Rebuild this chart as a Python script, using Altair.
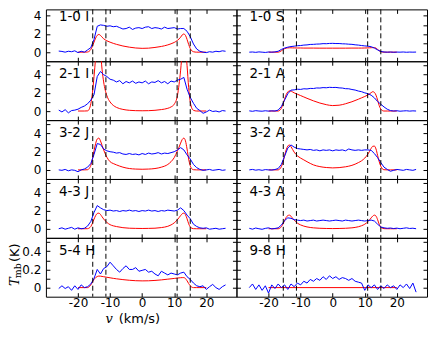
import altair as alt
import pandas as pd

# velocity grid of the observed (blue) spectra, km/s
V = [-26, -25, -24, -23, -22, -21, -20, -19, -18,
     -17, -16, -15, -14, -13, -12, -11, -10, -9,
     -8, -7, -6, -5, -4, -3, -2, -1, 0,
     1, 2, 3, 4, 5, 6, 7, 8, 9,
     10, 11, 12, 13, 14, 15, 16, 17, 18,
     19, 20, 21, 22, 23, 24, 25, 26]

B_10I = [0.12, 0.08, 0.0, 0.1, 0.05, 0.15, -0.05, 0.1, 0.0,
         0.25, 0.5, 1.4, 2.85, 3.0, 2.95, 2.85, 2.9, 2.8,
         2.85, 2.7, 2.55, 2.6, 2.75, 2.5, 2.65, 2.7, 2.6,
         2.75, 2.8, 2.6, 2.7, 2.65, 2.55, 2.75, 2.6, 2.65,
         2.7, 2.55, 2.6, 2.6, 2.3, 1.7, 0.9, 0.35, 0.1,
         0.0, -0.05, 0.05, 0.0, 0.1, 0.05, 0.15, 0.1]
B_10S = [0.0, 0.02, -0.02, 0.03, 0.0, -0.03, 0.02, 0.0, 0.03,
         0.1, 0.3, 0.45, 0.55, 0.62, 0.66, 0.71, 0.73, 0.78,
         0.8, 0.85, 0.86, 0.89, 0.9, 0.94, 0.93, 0.96, 0.97,
         0.95, 0.95, 0.92, 0.91, 0.88, 0.86, 0.81, 0.78, 0.73,
         0.69, 0.66, 0.6, 0.45, 0.25, 0.08, 0.02, 0.0, 0.02,
         -0.01, 0.01, 0.0, 0.02, -0.01, 0.01, 0.0, 0.01]
B_21I = [0.1, -0.1, 0.15, -0.2, 0.05, 0.1, 0.2, 0.4, 0.55,
         0.8, 1.2, 1.8, 3.8, 4.35, 4.0, 3.8, 3.5, 3.4,
         3.2, 3.35, 3.0, 3.25, 3.1, 3.3, 3.05, 3.2, 3.1,
         3.3, 3.0, 3.2, 3.15, 3.35, 3.1, 3.25, 3.0, 3.3,
         3.2, 3.4, 3.5, 3.7, 2.4, 1.5, 0.85, 0.3, 0.05,
         -0.25, -0.1, 0.1, -0.05, 0.0, -0.1, 0.05, 0.0]
B_21A = [0.02, -0.03, 0.04, 0.0, -0.02, 0.03, -0.01, 0.02, 0.0,
         0.1, 0.5, 1.2, 1.9, 2.3, 2.33, 2.4, 2.38, 2.45,
         2.43, 2.49, 2.48, 2.54, 2.53, 2.58, 2.56, 2.61, 2.59,
         2.6, 2.55, 2.53, 2.46, 2.45, 2.37, 2.31, 2.2, 2.13,
         2.0, 1.91, 1.74, 1.45, 1.05, 0.75, 0.45, 0.2, 0.05,
         0.0, 0.03, -0.02, 0.01, 0.03, -0.01, 0.02, 0.0]
B_32J = [0.0, -0.05, 0.05, -0.1, 0.0, -0.05, -0.2, 0.0, 0.1,
         0.3, 0.7, 1.7, 2.9, 2.8, 2.3, 2.1, 2.0, 1.95,
         1.85, 1.9, 1.75, 1.7, 1.8, 1.7, 1.75, 1.65, 1.8,
         1.7, 1.85, 1.75, 1.8, 1.9, 1.75, 1.85, 1.8, 1.9,
         2.0, 2.2, 2.45, 2.2, 1.65, 1.2, 0.6, 0.25, 0.05,
         -0.05, 0.0, 0.05, -0.05, 0.0, 0.05, -0.05, 0.0]
B_32A = [0.0, 0.05, -0.03, 0.02, -0.05, 0.03, 0.0, -0.02, 0.04,
         0.15, 0.6, 1.5, 2.4, 2.75, 2.5, 2.35, 2.3, 2.25,
         2.2, 2.25, 2.15, 2.2, 2.1, 2.2, 2.15, 2.2, 2.1,
         2.2, 2.15, 2.2, 2.1, 2.3, 2.2, 2.15, 2.2, 2.15,
         2.2, 2.2, 2.15, 1.8, 1.35, 0.8, 0.3, 0.05, -0.15,
         -0.05, 0.05, 0.0, -0.05, 0.05, 0.0, -0.05, 0.05]
B_43J = [0.0, 0.1, -0.05, 0.05, 0.15, -0.05, 0.1, 0.0, 0.05,
         0.3, 0.8, 1.8, 2.55, 2.3, 2.1, 2.0, 2.05, 1.95,
         2.0, 1.9, 2.0, 1.95, 2.05, 1.95, 2.0, 1.9, 2.0,
         1.95, 2.05, 1.95, 2.0, 1.9, 2.0, 1.95, 2.05, 2.0,
         1.95, 2.05, 2.3, 2.0, 1.5, 1.1, 0.5, 0.25, 0.1,
         0.05, 0.1, -0.05, 0.0, 0.05, -0.05, 0.0, 0.05]
B_43A = [0.05, -0.05, 0.08, 0.0, -0.06, 0.04, 0.1, -0.02, 0.03,
         0.1, 0.4, 0.9, 1.2, 1.15, 1.0, 0.95, 0.9, 0.95,
         0.85, 0.9, 0.95, 0.85, 0.9, 0.95, 0.9, 0.85, 0.9,
         0.95, 0.9, 0.85, 0.95, 0.9, 0.85, 0.9, 0.95, 0.9,
         0.85, 0.9, 0.95, 0.85, 0.5, 0.2, 0.1, 0.05, 0.08,
         0.02, 0.07, 0.0, 0.05, 0.1, 0.03, 0.06, 0.0]
B_54H = [-0.01, 0.02, -0.01, 0.01, -0.03, 0.02, -0.02, 0.03, 0.0,
         0.01, 0.04, 0.1, 0.2, 0.15, 0.21, 0.23, 0.28, 0.24,
         0.2, 0.17, 0.21, 0.24, 0.2, 0.2, 0.22, 0.18, 0.19,
         0.2, 0.17, 0.18, 0.15, 0.13, 0.18, 0.16, 0.14, 0.16,
         0.15, 0.14, 0.16, 0.17, 0.12, 0.09, 0.05, 0.02, 0.01,
         0.02, -0.02, 0.01, 0.035, 0.0, -0.02, 0.01, 0.03]
B_98H = [0.0, 0.04, -0.02, 0.03, -0.03, 0.02, -0.06, 0.03, -0.01,
         0.04, 0.0, 0.03, -0.02, 0.04, 0.01, 0.05, 0.03, 0.07,
         0.05, 0.09, 0.07, 0.1, 0.08, 0.12, 0.09, 0.13, 0.1,
         0.12, 0.09, 0.11, 0.1, 0.08, 0.1, 0.07, 0.06, 0.05,
         -0.03, 0.03, 0.0, 0.03, -0.02, 0.02, -0.01, 0.03, 0.0,
         0.02, -0.02, 0.03, 0.0, 0.04, -0.01, 0.05, -0.05]

# velocity grid of the model (red) profiles, km/s
RV = [-20, -18, -17, -16.5, -16, -15.5, -15, -14.5, -14, -13.5,
      -13, -12.5, -12, -11, -10, -9, -8, -6, -4, -2,
      0, 2, 4, 6, 8, 9, 10, 11, 11.5, 12,
      12.5, 13, 13.5, 14, 14.5, 15, 15.5, 16, 17, 18, 20]
R_10I = [0, 0, 0.02, 0.1, 0.3, 0.65, 1.1, 1.55, 1.85, 1.95,
         1.85, 1.65, 1.48, 1.25, 1.1, 0.97, 0.86, 0.68, 0.55, 0.46,
         0.42, 0.44, 0.52, 0.63, 0.8, 0.92, 1.07, 1.3, 1.45, 1.65,
         1.9, 2.0, 1.85, 1.4, 0.85, 0.4, 0.15, 0.05, 0, 0, 0]
R_10S = [0, 0, 0, 0.05, 0.15, 0.28, 0.38, 0.44, 0.47, 0.48,
         0.48, 0.47, 0.47, 0.46, 0.46, 0.45, 0.45, 0.45, 0.44, 0.44,
         0.44, 0.44, 0.44, 0.45, 0.45, 0.45, 0.46, 0.47, 0.48, 0.49,
         0.5, 0.5, 0.45, 0.3, 0.15, 0.05, 0.01, 0, 0, 0, 0]
R_21I = [0, 0, 0.02, 0.2, 0.8, 2.0, 3.8, 5.8, 7.2, 7.6,
         6.6, 4.6, 3.2, 1.7, 1.0, 0.62, 0.4, 0.18, 0.08, 0.04,
         0.03, 0.04, 0.08, 0.16, 0.3, 0.45, 0.75, 1.7, 2.9, 4.5,
         6.5, 7.6, 7.0, 5.0, 2.6, 1.0, 0.3, 0.08, 0, 0, 0]
R_21A = [0, 0, 0, 0.08, 0.3, 0.75, 1.3, 1.8, 2.1, 2.22,
         2.2, 2.1, 2.0, 1.85, 1.7, 1.55, 1.4, 1.12, 0.88, 0.7,
         0.6, 0.64, 0.8, 1.02, 1.3, 1.45, 1.6, 1.78, 1.9, 2.02,
         2.13, 2.05, 1.75, 1.2, 0.6, 0.2, 0.05, 0, 0, 0, 0]
R_32J = [0, 0, 0.02, 0.15, 0.5, 1.2, 2.1, 2.9, 3.4, 3.5,
         3.2, 2.7, 2.2, 1.4, 0.9, 0.7, 0.55, 0.3, 0.15, 0.09,
         0.07, 0.09, 0.15, 0.3, 0.6, 0.9, 1.35, 2.1, 2.5, 2.95,
         3.35, 3.5, 3.2, 2.3, 1.2, 0.45, 0.12, 0.02, 0, 0, 0]
R_32A = [0, 0, 0, 0.1, 0.35, 0.85, 1.55, 2.2, 2.62, 2.75,
         2.55, 2.25, 1.95, 1.55, 1.3, 1.1, 0.9, 0.55, 0.36, 0.26,
         0.22, 0.25, 0.34, 0.5, 0.8, 1.0, 1.3, 1.75, 2.05, 2.38,
         2.6, 2.62, 2.3, 1.6, 0.9, 0.4, 0.1, 0.02, 0, 0, 0]
R_43J = [0, 0, 0.01, 0.08, 0.25, 0.6, 1.05, 1.45, 1.68, 1.72,
         1.58, 1.32, 1.08, 0.7, 0.45, 0.32, 0.24, 0.12, 0.06, 0.04,
         0.03, 0.04, 0.06, 0.13, 0.27, 0.42, 0.65, 1.0, 1.22, 1.45,
         1.65, 1.72, 1.55, 1.1, 0.55, 0.2, 0.05, 0.01, 0, 0, 0]
R_43A = [0, 0, 0, 0.06, 0.22, 0.52, 0.9, 1.25, 1.45, 1.5,
         1.38, 1.15, 0.95, 0.62, 0.42, 0.29, 0.2, 0.1, 0.05, 0.03,
         0.02, 0.03, 0.05, 0.1, 0.22, 0.33, 0.5, 0.78, 0.98, 1.2,
         1.4, 1.5, 1.4, 1.0, 0.5, 0.18, 0.05, 0.01, 0, 0, 0]
R_54H = [0, 0, 0, 0.01, 0.03, 0.06, 0.09, 0.11, 0.122, 0.127,
         0.126, 0.123, 0.12, 0.114, 0.108, 0.102, 0.097, 0.088, 0.081, 0.076,
         0.074, 0.075, 0.079, 0.085, 0.093, 0.097, 0.101, 0.105, 0.107, 0.109,
         0.11, 0.11, 0.1, 0.075, 0.045, 0.02, 0.005, 0, 0, 0, 0]
RV_98 = [-20, 20]
R_98H = [0, 0]

DASHED = [-15.4, -11.3, 10.9, 15.0]

NAMES = ["1-0 I", "1-0 S", "2-1 I", "2-1 A", "3-2 J", "3-2 A",
         "4-3 J", "4-3 A", "5-4 H", "9-8 H"]
BLUES = [B_10I, B_10S, B_21I, B_21A, B_32J, B_32A, B_43J, B_43A, B_54H, B_98H]
REDS = [(RV, R_10I), (RV, R_10S), (RV, R_21I), (RV, R_21A), (RV, R_32J),
        (RV, R_32A), (RV, R_43J), (RV, R_43A), (RV, R_54H), (RV_98, R_98H)]

# layout
PW = 191
ROW_H = [52, 59, 59, 59, 59]
ROW_DOM = [[-1, 4.71], [-1, 5.48], [-1, 5.48], [-1, 5.48], [-0.1, 0.548]]
ROW_YT = [[0, 1, 2, 3, 4], [0, 1, 2, 3, 4, 5], [0, 1, 2, 3, 4, 5],
          [0, 1, 2, 3, 4, 5], [0, 0.1, 0.2, 0.3, 0.4, 0.5]]
XDOM = [-30, 29.4]
XT = [-20, -10, 0, 10, 20]
FONT = "DejaVu Sans"
SERIF = "DejaVu Serif"


def panel(k):
    row, col = divmod(k, 2)
    h = ROW_H[row]
    left = col == 0
    bottom = row == 4
    xs = alt.Scale(domain=XDOM, nice=False, zero=False)
    ys = alt.Scale(domain=ROW_DOM[row], nice=False, zero=False)
    common = dict(tickSize=4, offset=-4, domain=False, grid=False,
                  tickColor="#000", tickWidth=1, title=None,
                  labelFont=FONT, labelFontSize=12, labelColor="#000")
    if row < 4:
        ylab = "datum.value % 2 == 0 ? '' + datum.value : ''"
    else:
        ylab = "round(datum.value * 10) % 2 == 0 ? format(datum.value, '.1~f') : ''"
    xb = alt.Axis(orient="bottom", values=XT, labels=bottom,
                  labelExpr="'' + datum.value", labelPadding=1, **common)
    xt = alt.Axis(orient="top", values=XT, labels=False, **common)
    yl = alt.Axis(orient="left", values=ROW_YT[row], labels=left,
                  labelExpr=ylab, labelPadding=5, **common)
    yr = alt.Axis(orient="right", values=ROW_YT[row], labels=False, **common)

    rv, rt = REDS[k]
    dfb = pd.DataFrame({"v": V, "t": BLUES[k]})
    dfr = pd.DataFrame({"v": rv, "t": rt})
    red = alt.Chart(dfr).mark_line(color="#ff0000", strokeWidth=1, clip=True,
                                   interpolate="monotone").encode(
        x=alt.X("v:Q", scale=xs, axis=xt),
        y=alt.Y("t:Q", scale=ys, axis=yr))
    blue = alt.Chart(dfb).mark_line(color="#0000ff", strokeWidth=1, clip=True).encode(
        x=alt.X("v:Q", scale=xs, axis=xb),
        y=alt.Y("t:Q", scale=ys, axis=yl))
    dash = alt.Chart(pd.DataFrame({"d": DASHED})).mark_rule(
        color="#000", strokeWidth=1, strokeDash=[5, 3]).encode(
        x=alt.X("d:Q", scale=xs, axis=None))
    ly = 12 if row == 0 else 17
    lab = alt.Chart(pd.DataFrame({"s": [NAMES[k]]})).mark_text(
        align="left", baseline="alphabetic", font=FONT, fontSize=13.5,
        color="#000").encode(x=alt.value(13), y=alt.value(ly), text="s:N")
    layers = [red, blue, dash, lab]
    if bottom and left:
        def txt(s, x, y, **kw):
            return alt.Chart(pd.DataFrame({"s": [s]})).mark_text(
                color="#000", **kw).encode(x=alt.value(x), y=alt.value(y), text="s:N")
        layers += [
            txt("v", 67, h + 26, align="right", baseline="alphabetic",
                font=SERIF, fontStyle="italic", fontSize=13),
            txt("(km/s)", 73, h + 26, align="left", baseline="alphabetic",
                font=FONT, fontSize=13),
            txt("T", -31, 44, align="center", baseline="middle", angle=270,
                font=SERIF, fontStyle="italic", fontSize=13),
            txt("mb", -28, 33, align="center", baseline="middle", angle=270,
                font=SERIF, fontSize=9.5),
            txt("(K)", -31, 15, align="center", baseline="middle", angle=270,
                font=FONT, fontSize=13),
        ]
    return alt.layer(*layers).resolve_axis(x="independent", y="independent").properties(
        width=PW, height=h)


chart = alt.concat(*[panel(k) for k in range(10)], columns=2, spacing=0,
                   bounds="flush").properties(padding=0).configure(
    font=FONT, view=alt.ViewConfig(stroke="#000", strokeWidth=1))

chart.save("out.html", embed_options={"renderer": "svg", "actions": False})
